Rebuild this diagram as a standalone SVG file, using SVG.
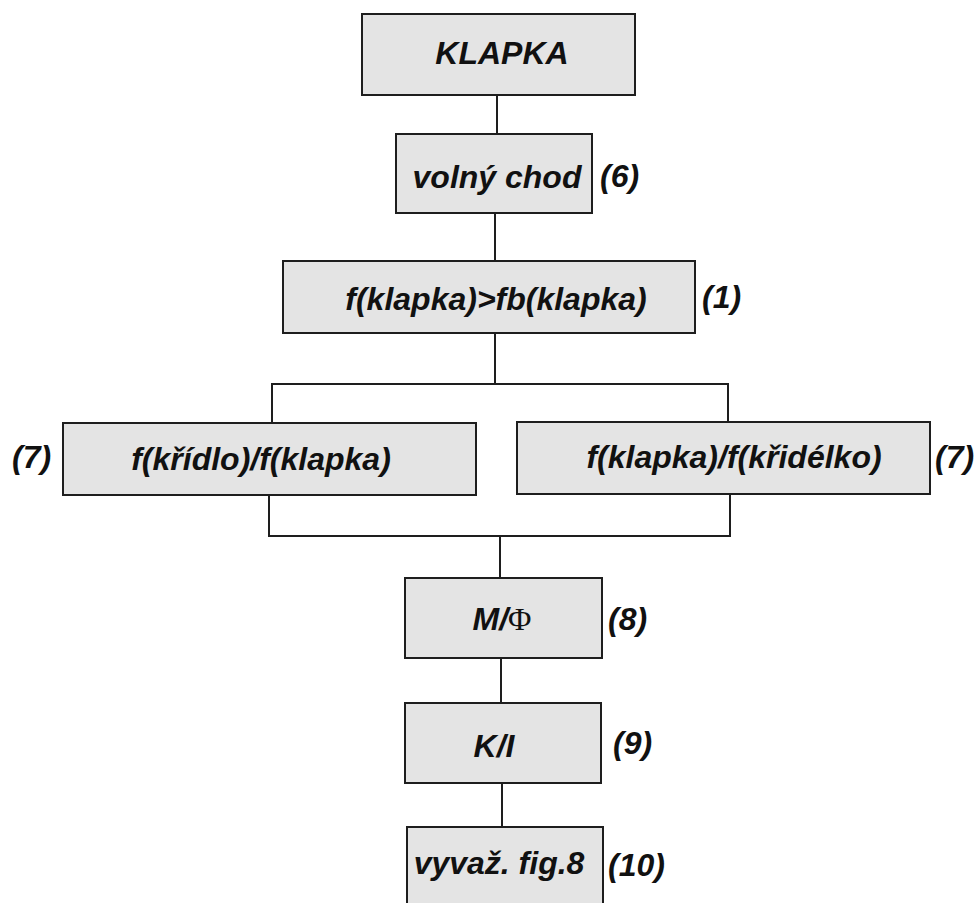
<svg xmlns="http://www.w3.org/2000/svg" width="980" height="903" viewBox="0 0 980 903">
<style>
.box{fill:#e4e4e4;stroke:#1e1e1e;stroke-width:2}
.t{font-family:"Liberation Sans",Arial,sans-serif;font-weight:bold;font-style:italic;font-size:32px;fill:#111;text-anchor:middle}
.n{font-family:"Liberation Sans",Arial,sans-serif;font-weight:bold;font-style:italic;font-size:32px;fill:#111}
.c{fill:none;stroke:#1e1e1e;stroke-width:2}
</style>
<rect width="980" height="903" fill="#fff"/>
<g id="connectors">
<path class="c" d="M497 95V134"/>
<path class="c" d="M495 213V261"/>
<path class="c" d="M495 333V384M272 423V384H728V422"/>
<path class="c" d="M269 495V536H730V494M500 536V578"/>
<path class="c" d="M501 658V703"/>
<path class="c" d="M502 783V827"/>
</g>
<g id="klapka"><rect class="box" x="362" y="14" width="273" height="81"/><text class="t" x="502" y="64">KLAPKA</text></g>
<g id="volny"><rect class="box" x="396" y="134" width="196" height="79"/><text class="t" x="497" y="188">volný chod</text><text class="n" x="600" y="187">(6)</text></g>
<g id="fb"><rect class="box" x="283" y="261" width="412" height="72"/><text class="t" x="496" y="310">f(klapka)&gt;fb(klapka)</text><text class="n" x="702" y="308">(1)</text></g>
<g id="left"><rect class="box" x="63" y="423" width="413" height="72"/><text class="t" x="261" y="470">f(křídlo)/f(klapka)</text><text class="n" x="12" y="468">(7)</text></g>
<g id="right"><rect class="box" x="517" y="422" width="413" height="72"/><text class="t" x="734" y="468">f(klapka)/f(křidélko)</text><text class="n" x="935" y="468">(7)</text></g>
<g id="mphi"><rect class="box" x="405" y="578" width="197" height="80"/><text class="t" x="502" y="630">M/<tspan font-family="'Liberation Serif',serif" font-style="normal" font-weight="normal">Φ</tspan></text><text class="n" x="608" y="630">(8)</text></g>
<g id="ki"><rect class="box" x="405" y="703" width="196" height="80"/><text class="t" x="494" y="757">K/I</text><text class="n" x="613" y="754">(9)</text></g>
<g id="vyvaz"><rect class="box" x="407" y="827" width="196" height="90"/><text class="t" x="499" y="874">vyvaž. fig.8</text><text class="n" x="608" y="876">(10)</text></g>
</svg>
